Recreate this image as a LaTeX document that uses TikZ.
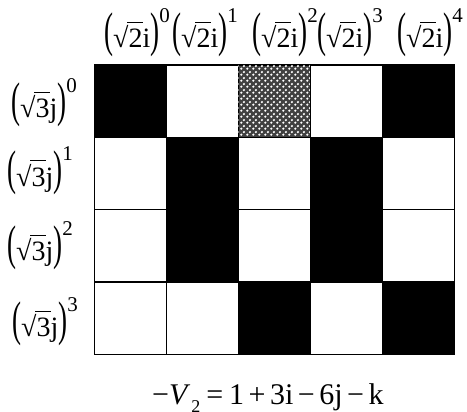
\RequirePackage{fix-cm}
\documentclass[tikz,border=0pt]{standalone}
\usepackage{fontspec}
\setmainfont{Liberation Serif}
\usetikzlibrary{patterns}
\pgfdeclarepatternformonly{crossdots}{\pgfpointorigin}{\pgfpoint{6pt}{6pt}}{\pgfpoint{6pt}{6pt}}{%
  \pgfpathcircle{\pgfpoint{1.5pt}{1.5pt}}{1.4pt}%
  \pgfpathcircle{\pgfpoint{4.5pt}{4.5pt}}{1.4pt}%
  \pgfusepath{fill}}
\newlength\rtw
\newcommand\rtbar{25pt}
\newcommand\rt[1]{\settowidth\rtw{#1}√\kern-1.2pt\rule[\rtbar]{\dimexpr\rtw+1.2pt\relax}{0.9pt}\kern-\rtw #1}
\newcommand\LP{\raisebox{-9pt}{\resizebox*{9pt}{44pt}{\raisebox{\depth}{(}}}}
\newcommand\RP{\raisebox{-9pt}{\resizebox*{9pt}{44pt}{\raisebox{\depth}{)}}}}
\newcommand\SUP[1]{\raisebox{25pt}{\fontsize{21}{21}\selectfont #1}}
\begin{document}
\begin{tikzpicture}[x=1pt,y=-1pt,
 cell/.style={draw=black,line width=1.3pt,minimum width=72pt,minimum height=72.3pt,inner sep=0pt,outer sep=0pt},
 blk/.style={cell,fill=black},
 wht/.style={cell,fill=white},
 pat/.style={cell,fill=black!75,postaction={pattern=crossdots,pattern color=white}},
 lab/.style={font=\fontsize{28}{30}\selectfont,inner sep=0pt,anchor=base west},
 eqn/.style={font=\fontsize{30}{32}\selectfont,inner sep=0pt,anchor=base west}]
\useasboundingbox (0,0) rectangle (467,412);
\foreach \row/\list in {0/{blk,wht,pat,wht,blk},1/{wht,blk,wht,blk,wht},2/{wht,blk,wht,blk,wht},3/{wht,wht,blk,wht,blk}} {
  \foreach \s [count=\c from 0] in \list {
    \node[\s] (c\row\c) at ({130.3+72*\c},{101.15+72.3*\row}) {};
  }
}
\foreach \n/\x in {0/104,1/172,2/252,3/317,4/397} {
  \node[lab] (t\n) at (\x,48) {\LP\rt{2}i\RP\SUP{\n}};
}
\foreach \n/\x/\y in {0/11/118,1/7/186,2/7/261,3/12/337} {
  \node[lab] (l\n) at (\x,\y) {\LP\rt{3}j\RP\SUP{\n}};
}
\node[eqn] (eq) at (152,405) {−\textit{V}\kern1pt\raisebox{-7pt}{\fontsize{18}{18}\selectfont 2}\hspace{6pt}=\hspace{6pt}1\hspace{4.5pt}+\hspace{4.5pt}3i\hspace{4.5pt}−\hspace{4.5pt}6j\hspace{4.5pt}−\hspace{4.5pt}k};
\end{tikzpicture}
\end{document}
